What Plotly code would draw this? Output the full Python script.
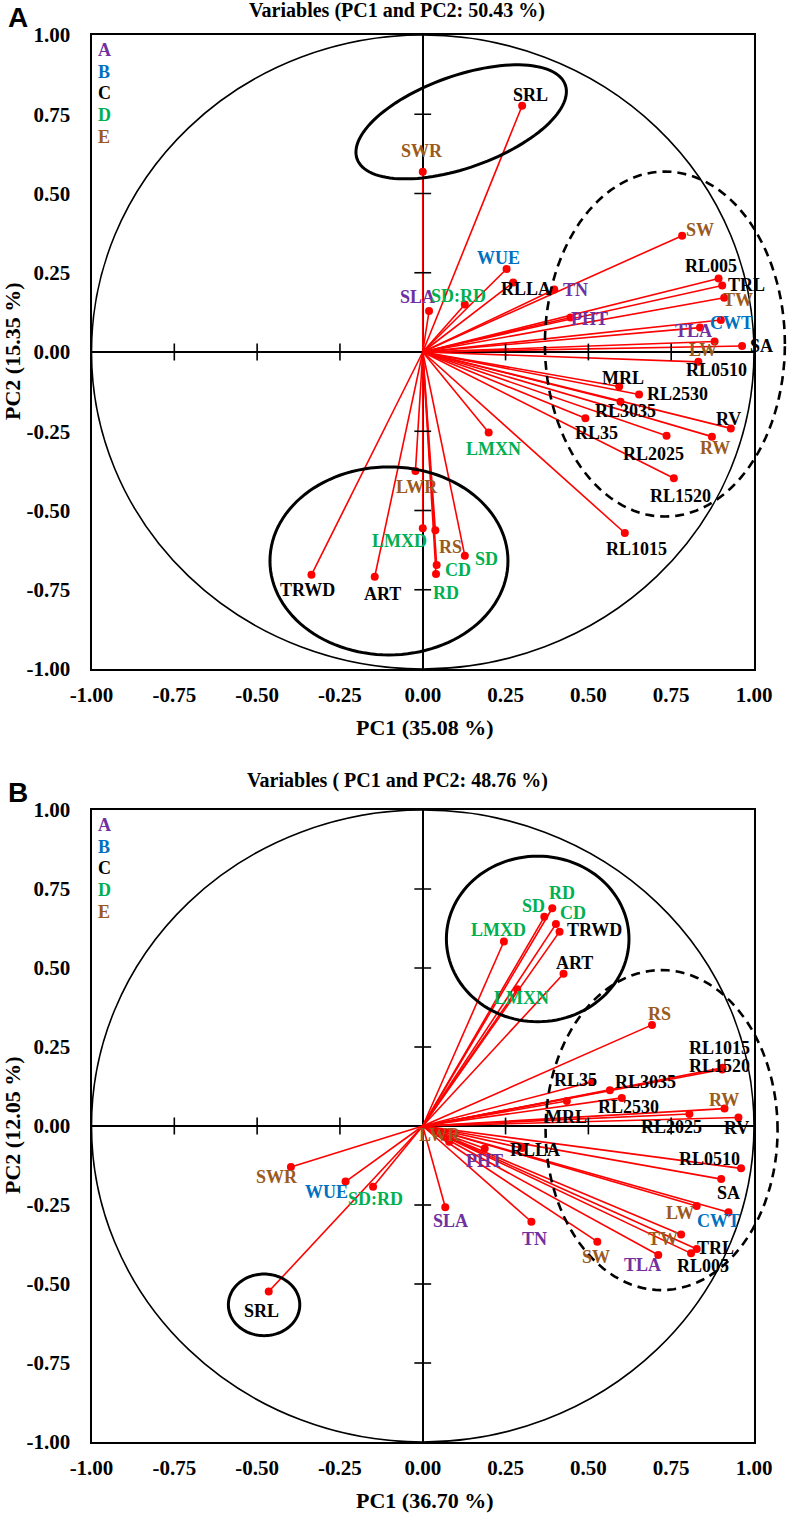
import math
import plotly.graph_objects as go

# ---------------- data ----------------
variables = ["SLA", "TN", "PHT", "TLA",
             "WUE", "CWT",
             "SRL", "RLLA", "RL005", "TRL", "SA", "RL0510", "MRL", "RL2530", "RL3035",
             "RV", "RL35", "RL2025", "RL1520", "RL1015", "TRWD", "ART",
             "SD:RD", "LMXN", "LMXD", "SD", "CD", "RD",
             "SWR", "SW", "TW", "LW", "RW", "LWR", "RS"]
groups = ["A", "A", "A", "A",
          "B", "B",
          "C", "C", "C", "C", "C", "C", "C", "C", "C",
          "C", "C", "C", "C", "C", "C", "C",
          "D", "D", "D", "D", "D", "D",
          "E", "E", "E", "E", "E", "E", "E"]

# Panel A loadings (PC1, PC2)
pc1_A = [0.019, 0.397, 0.446, 0.837,
         0.253, 0.900,
         0.300, 0.273, 0.893, 0.904, 0.964, 0.832, 0.593, 0.653, 0.597,
         0.930, 0.491, 0.736, 0.758, 0.610, -0.336, -0.145,
         0.127, 0.199, 0.000, 0.127, 0.042, 0.040,
         0.000, 0.783, 0.910, 0.881, 0.873, -0.022, 0.038]
pc2_A = [0.129, 0.197, 0.109, 0.077,
         0.262, 0.101,
         0.777, 0.219, 0.232, 0.210, 0.019, -0.031, -0.109, -0.134, -0.157,
         -0.241, -0.209, -0.264, -0.398, -0.571, -0.703, -0.709,
         0.150, -0.254, -0.556, -0.643, -0.672, -0.700,
         0.569, 0.367, 0.171, 0.033, -0.267, -0.375, -0.562]

# Panel B loadings (PC1, PC2)
pc1_B = [0.068, 0.328, 0.187, 0.711,
         -0.233, 0.923,
         -0.465, 0.300, 0.810, 0.827, 0.901, 0.961, 0.435, 0.601, 0.565,
         0.953, 0.512, 0.805, 0.904, 0.905, 0.413, 0.425,
         -0.150, 0.285, 0.245, 0.367, 0.402, 0.391,
         -0.398, 0.527, 0.780, 0.827, 0.911, 0.080, 0.692]
pc2_B = [-0.257, -0.303, -0.071, -0.408,
         -0.176, -0.273,
         -0.524, -0.070, -0.403, -0.389, -0.168, -0.134, 0.079, 0.089, 0.113,
         0.027, 0.140, 0.038, 0.179, 0.184, 0.615, 0.482,
         -0.192, 0.433, 0.584, 0.662, 0.639, 0.689,
         -0.130, -0.366, -0.343, -0.253, 0.055, -0.050, 0.320]

tick_values = [-1.0, -0.75, -0.5, -0.25, 0.0, 0.25, 0.5, 0.75, 1.0]
tick_labels = ["-1.00", "-0.75", "-0.50", "-0.25", "0.00", "0.25", "0.50", "0.75", "1.00"]

titles = ["Variables (PC1 and PC2: 50.43 %)", "Variables ( PC1 and PC2: 48.76 %)"]
xtitles = ["PC1 (35.08 %)", "PC1 (36.70 %)"]
ytitles = ["PC2 (15.35 %)", "PC2 (12.05 %)"]
panel_letters = ["A", "B"]
group_names = ["A", "B", "C", "D", "E"]

# ---------------- styling / layout ----------------
W, H = 789, 1514
group_colors = {"A": "#7030A0", "B": "#0070C0", "C": "#000000",
                "D": "#00B050", "E": "#9A5A20"}
SERIF = "Liberation Serif"

# label offsets (px, dx right, dy up) relative to each point
offs_A = [(-12, 14), (21, 0), (19, -2), (-7, -3),
          (-8, 11), (11, -3),
          (8, 11), (13, -6), (-8, 12), (24, 0), (19, 0), (18, -8), (4, 9), (38, 0), (5, -9),
          (-2, 9), (11, -15), (-13, -18), (7, -18), (12, -16), (-4, -15), (8, -17),
          (-6, 8), (5, -16), (-23, -13), (22, -3), (21, -5), (10, -19),
          (-1, 21), (18, 6), (14, -2), (-12, -8), (3, -11), (2, -16), (15, -17)]
offs_B = [(5, -14), (3, -17), (0, -13), (-16, -10),
          (-19, -10), (-10, -9),
          (-7, -19), (13, -2), (12, -13), (19, 1), (7, -14), (-32, 9), (-1, -16), (7, -9), (36, 8),
          (-2, -11), (-17, 2), (-18, -13), (-3, 3), (-3, 20), (35, 2), (11, 11),
          (2, -12), (4, -9), (-5, 11), (-11, 11), (17, 11), (10, 15),
          (-14, -10), (-1, -15), (-18, -5), (-17, -7), (-1, 9), (-9, 7), (8, 11)]

# panel geometry in px
XL, XR = 91.5, 754.0
panels = [dict(top=35.0, bottom=669.0), dict(top=810.0, bottom=1442.0)]
for p in panels:
    p["sx"] = (XR - XL) / 2.0
    p["sy"] = (p["bottom"] - p["top"]) / 2.0

# ellipses: (center x, center y in data units, semi-axes a, b in px, tilt deg, dash)
ellipses = [
    [(0.116, 0.726, 110.5, 46.0, 19.6, "solid"),
     (-0.102, -0.659, 119.0, 94.0, 0.0, "solid"),
     (0.731, 0.025, 120.0, 172.5, 0.0, "dash")],
    [(0.347, 0.592, 91.3, 82.8, 0.0, "solid"),
     (0.721, -0.013, 116.0, 160.0, 0.0, "dash"),
     (-0.479, -0.566, 35.7, 30.8, 0.0, "solid")],
]


def paper(px, py):
    return px / W, 1 - py / H


def ellipse_path(cx, cy, a, b, th, sx, sy, n=120):
    t = math.radians(th)
    pts = []
    for i in range(n + 1):
        u = 2 * math.pi * i / n
        ox = a * math.cos(u) * math.cos(t) - b * math.sin(u) * math.sin(t)
        oy = a * math.cos(u) * math.sin(t) + b * math.sin(u) * math.cos(t)
        x = cx + ox / sx
        y = cy + oy / sy
        pts.append(((x + 1) / 2, (y + 1) / 2))
    return "M " + " L ".join(f"{x:.5f},{y:.5f}" for x, y in pts) + " Z"


fig = go.Figure()
shapes = []
annotations = []
layout_axes = {}

datasets = [(pc1_A, pc2_A, offs_A), (pc1_B, pc2_B, offs_B)]

for k, (xs, ys, offs) in enumerate(datasets):
    p = panels[k]
    xa = "x" if k == 0 else "x2"
    ya = "y" if k == 0 else "y2"
    xname = "xaxis" if k == 0 else "xaxis2"
    yname = "yaxis" if k == 0 else "yaxis2"

    # vectors
    lx, ly = [], []
    for x, y in zip(xs, ys):
        lx += [0, x, None]
        ly += [0, y, None]
    fig.add_trace(go.Scatter(x=lx, y=ly, mode="lines", xaxis=xa, yaxis=ya,
                             line=dict(color="#FF0000", width=1.6),
                             hoverinfo="skip", showlegend=False))
    fig.add_trace(go.Scatter(x=xs, y=ys, mode="markers", xaxis=xa, yaxis=ya,
                             marker=dict(color="#FF0000", size=8),
                             text=variables, hoverinfo="text", showlegend=False,
                             cliponaxis=False))
    # ticks on the central axes
    tv = [v for v in tick_values if v not in (0.0, -1.0, 1.0)]
    fig.add_trace(go.Scatter(x=tv, y=[0] * len(tv), mode="markers", xaxis=xa, yaxis=ya,
                             marker=dict(symbol="line-ns-open", size=12, color="black",
                                         line=dict(color="black", width=1.6)),
                             hoverinfo="skip", showlegend=False))
    fig.add_trace(go.Scatter(x=[0] * len(tv), y=tv, mode="markers", xaxis=xa, yaxis=ya,
                             marker=dict(symbol="line-ew-open", size=12, color="black",
                                         line=dict(color="black", width=1.6)),
                             hoverinfo="skip", showlegend=False))

    # axes
    axis_common = dict(range=[-1, 1], tickvals=tick_values, ticktext=tick_labels,
                       showgrid=False, zeroline=True, zerolinecolor="black",
                       zerolinewidth=1.6, showline=True, mirror=True,
                       linecolor="black", linewidth=2, ticks="",
                       tickfont=dict(family=SERIF, size=21, color="black", weight="bold"),
                       fixedrange=True, automargin=False)
    layout_axes[xname] = dict(axis_common, domain=[XL / W, XR / W],
                              anchor=ya, ticklabelstandoff=6)
    layout_axes[yname] = dict(axis_common, domain=[1 - p["bottom"] / H, 1 - p["top"] / H],
                              anchor=xa, ticklabelstandoff=15)

    # unit circle
    shapes.append(dict(type="circle", xref=xa, yref=ya, x0=-1, x1=1, y0=-1, y1=1,
                       line=dict(color="black", width=1.6), layer="above"))
    # group ellipses
    for (cx, cy, a, b, th, dash) in ellipses[k]:
        shapes.append(dict(type="path", xref=xa + " domain", yref=ya + " domain",
                           path=ellipse_path(cx, cy, a, b, th, p["sx"], p["sy"]),
                           line=dict(color="black", width=3 if dash == "solid" else 2.6,
                                     dash="solid" if dash == "solid" else "9px,6px"),
                           layer="above"))

    # variable labels
    for name, g, x, y, (dx, dy) in zip(variables, groups, xs, ys, offs):
        annotations.append(dict(x=x, y=y, xref=xa, yref=ya, xshift=dx, yshift=dy,
                                text=f"<b>{name}</b>", showarrow=False,
                                font=dict(family=SERIF, size=18, color=group_colors[g]),
                                xanchor="center", yanchor="middle"))

    # legend letters
    for i, gname in enumerate(group_names):
        px_, py_ = paper(104, p["top"] + 15 + i * 21.7)
        annotations.append(dict(x=px_, y=py_, xref="paper", yref="paper",
                                text=f"<b>{gname}</b>", showarrow=False,
                                font=dict(family=SERIF, size=18, color=group_colors[gname]),
                                xanchor="center", yanchor="middle"))

    # titles
    off = p["top"] - 35.0
    tx, ty = paper(397, 11 + off - (0 if k == 0 else 6))
    annotations.append(dict(x=tx, y=ty, xref="paper", yref="paper",
                            text=f"<b>{titles[k]}</b>", showarrow=False,
                            font=dict(family=SERIF, size=20, color="black"),
                            xanchor="center", yanchor="middle"))
    lx_, ly_ = paper(18, 17 + off)
    annotations.append(dict(x=lx_, y=ly_, xref="paper", yref="paper",
                            text=f"<b>{panel_letters[k]}</b>", showarrow=False,
                            font=dict(family="Liberation Sans", size=28, color="black"),
                            xanchor="center", yanchor="middle"))
    xtx, xty = paper(424, p["bottom"] + 58)
    annotations.append(dict(x=xtx, y=xty, xref="paper", yref="paper",
                            text=f"<b>{xtitles[k]}</b>", showarrow=False,
                            font=dict(family=SERIF, size=22, color="black"),
                            xanchor="center", yanchor="middle"))
    ytx, yty = paper(12, (p["top"] + p["bottom"]) / 2)
    annotations.append(dict(x=ytx, y=yty, xref="paper", yref="paper",
                            text=f"<b>{ytitles[k]}</b>", showarrow=False, textangle=-90,
                            font=dict(family=SERIF, size=22, color="black"),
                            xanchor="center", yanchor="middle"))

fig.update_layout(width=W, height=H, autosize=False,
                  margin=dict(l=0, r=0, t=0, b=0, pad=0, autoexpand=False),
                  paper_bgcolor="white", plot_bgcolor="white",
                  shapes=shapes, annotations=annotations, showlegend=False,
                  **layout_axes)

fig.write_html("out.html", config={"displayModeBar": False},
               post_script="document.body.style.margin='0px';"
                           "document.body.style.overflow='hidden';")
